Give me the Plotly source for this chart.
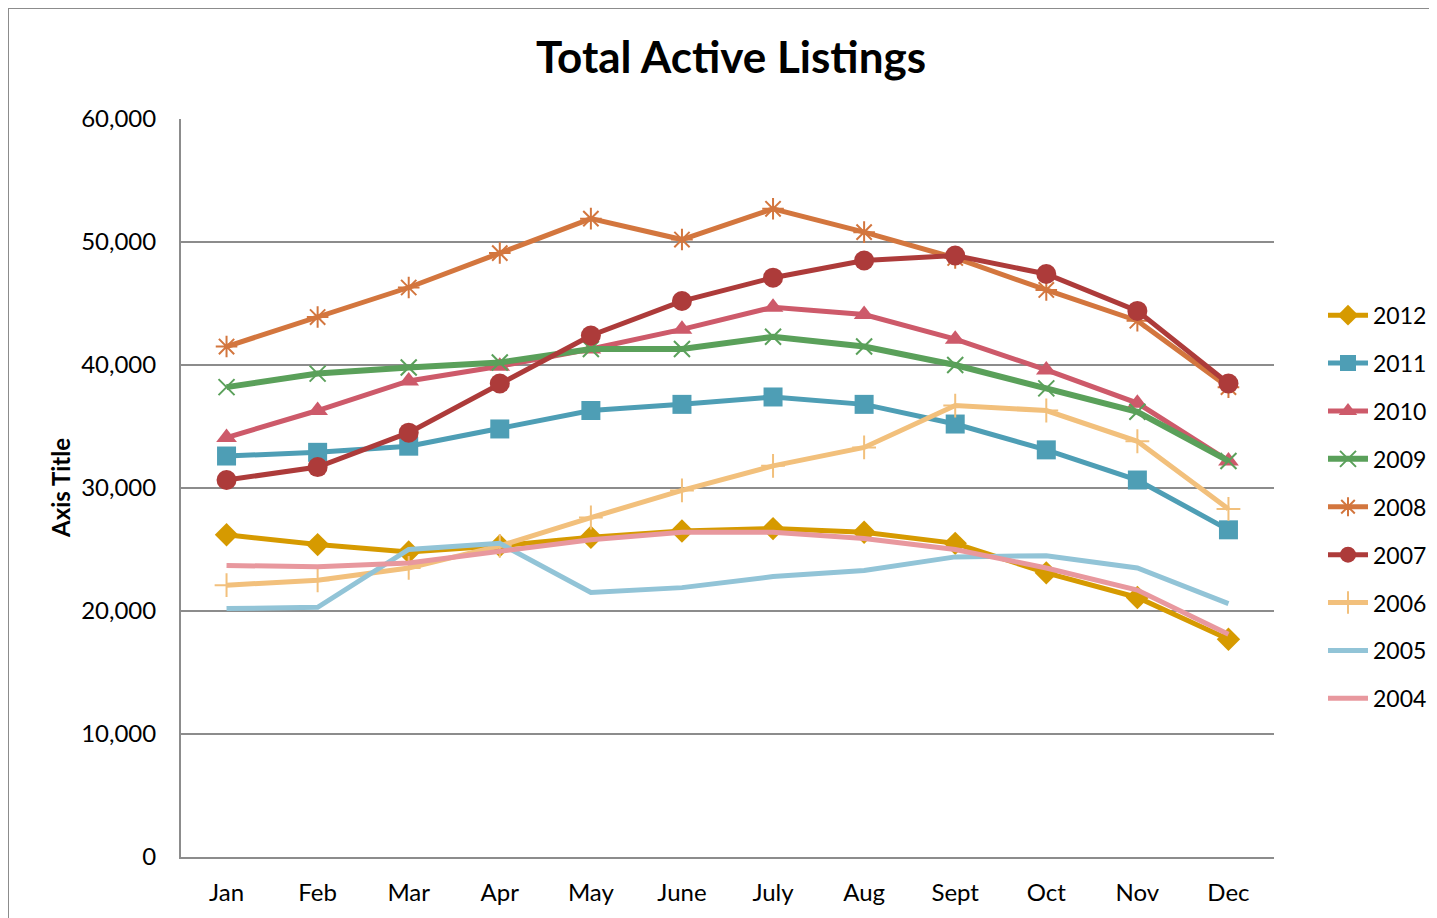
import plotly.graph_objects as go

months = ["Jan", "Feb", "Mar", "Apr", "May", "June", "July", "Aug", "Sept", "Oct", "Nov", "Dec"]

y2012 = [26200, 25400, 24800, 25300, 26000, 26500, 26700, 26400, 25500, 23100, 21100, 17700]
y2011 = [32600, 32900, 33400, 34800, 36300, 36800, 37400, 36800, 35200, 33100, 30650, 26600]
y2010 = [34100, 36300, 38700, 39900, 41300, 42900, 44700, 44100, 42100, 39600, 36900, 32200]
y2009 = [38200, 39300, 39800, 40200, 41300, 41300, 42300, 41500, 40000, 38100, 36200, 32200]
y2008 = [41500, 43900, 46300, 49100, 51900, 50200, 52700, 50800, 48700, 46100, 43600, 38200]
y2007 = [30650, 31700, 34500, 38500, 42400, 45200, 47100, 48500, 48900, 47400, 44400, 38500]
y2006 = [22100, 22500, 23500, 25300, 27600, 29800, 31800, 33300, 36700, 36300, 33800, 28300]
y2005 = [20200, 20300, 25000, 25500, 21500, 21900, 22800, 23300, 24400, 24500, 23500, 20600]
y2004 = [23700, 23600, 23900, 24900, 25800, 26400, 26400, 25900, 25000, 23500, 21700, 18100]

series = [
    ("2012", y2012, "#D69A00", dict(symbol="diamond", size=18), 5),
    ("2011", y2011, "#4E9EB5", dict(symbol="square", size=19), 5),
    ("2010", y2010, "#CD5A6A", dict(symbol="triangle-up", size=18), 5),
    ("2009", y2009, "#5AA05A", dict(symbol="x-thin", size=16, line=dict(width=2, color="#5AA05A")), 6),
    ("2008", y2008, "#D3763E", dict(symbol="asterisk", size=18, line=dict(width=2, color="#D3763E")), 5),
    ("2007", y2007, "#AD3B3A", dict(symbol="circle", size=20), 5),
    ("2006", y2006, "#F2C07C", dict(symbol="cross-thin", size=17, line=dict(width=2, color="#F2C07C")), 5),
    ("2005", y2005, "#92C4D7", None, 5),
    ("2004", y2004, "#E8989E", None, 5),
]

fig = go.Figure()
for name, ys, color, marker, lw in series:
    mode = "lines+markers" if marker else "lines"
    m = dict(color=color, **marker) if marker else None
    fig.add_trace(go.Scatter(
        x=months, y=ys, name=name, mode=mode,
        line=dict(color=color, width=lw),
        marker=m, legendgroup=name,
    ))

# page body has an 8px default margin: figure coords = screen coords - 8
OFF = 8
W, H = 1437 - OFF, 918 - OFF
L, R, T, B = 181 - OFF, 1274 - OFF, 119 - OFF, 857 - OFF
PW, PH = R - L, B - T

fig.update_layout(
    width=W, height=H,
    margin=dict(l=L, r=W - R, t=T, b=H - B, autoexpand=False),
    paper_bgcolor="white", plot_bgcolor="white",
    font=dict(family="Lato, Carlito, sans-serif", color="black", size=24),
    title=dict(text="<b>Total Active Listings</b>", x=(731 - OFF) / W, xanchor="center",
               y=1 - (58 - OFF) / H, yanchor="middle",
               font=dict(size=44, family="Lato, sans-serif", color="black")),
    legend=dict(x=(1323 - 181) / 1093, xanchor="left", y=0.474, yanchor="middle",
                font=dict(size=23), tracegroupgap=15, itemwidth=40,
                bgcolor="rgba(0,0,0,0)"),
    showlegend=True,
)
fig.update_xaxes(range=[-0.5, 11.5], showgrid=False, showline=True, linecolor="#8C8C8C",
                 linewidth=2, ticks="", ticklabelstandoff=13, tickfont=dict(size=24))
fig.update_yaxes(range=[0, 60000], dtick=10000, tickformat=",", showgrid=True,
                 gridcolor="#8C8C8C", gridwidth=2, showline=True, linecolor="#8C8C8C",
                 linewidth=2, zeroline=False, ticks="", ticklabelstandoff=18,
                 tickfont=dict(size=24))

fig.add_annotation(text="<b>Axis Title</b>", xref="paper", yref="paper",
                   x=(60 - 181) / PW, y=0.5, textangle=-90, showarrow=False,
                   font=dict(size=24, color="black"), xanchor="center", yanchor="middle")

# outer chart border
fig.add_shape(type="line", xref="paper", yref="paper",
              x0=(8 - 181) / PW, x1=(1437 - 181) / PW,
              y0=(857 - 8) / PH, y1=(857 - 8) / PH,
              line=dict(color="#8C8C8C", width=2))
fig.add_shape(type="line", xref="paper", yref="paper",
              x0=(8 - 181) / PW, x1=(8 - 181) / PW,
              y0=(857 - 8) / PH, y1=(857 - 918) / PH,
              line=dict(color="#8C8C8C", width=2))

fig.write_html("out.html")
